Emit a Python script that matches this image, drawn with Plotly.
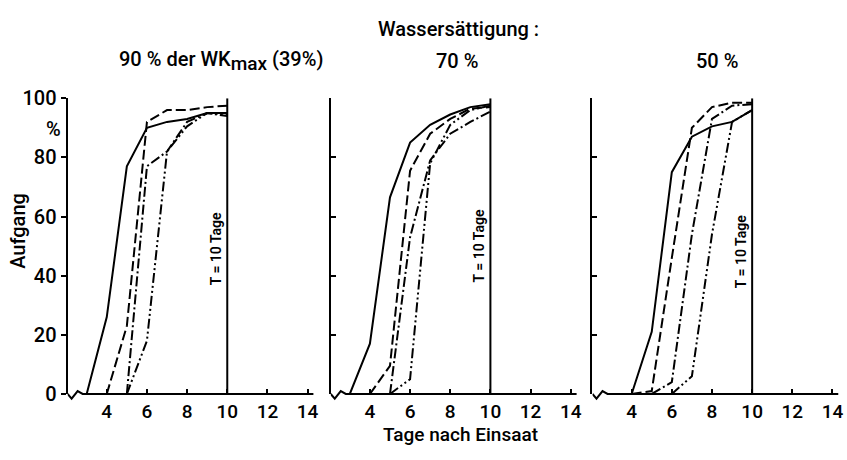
import plotly.graph_objects as go

# ---------------- data (days after sowing, emergence %) ----------------
x_ticks = [4, 6, 8, 10, 12, 14]
y_ticks = [0, 20, 40, 60, 80, 100]
panel_titles = ["90 % der WK<sub><span style='font-size:19px'>max</span></sub> (39%)", "70 %", "50 %"]

# panel 1: 90 %
p1_solid_x = [3, 4, 5, 6, 7, 8, 9, 10]
p1_solid_y = [0, 26, 77, 90, 92, 93, 95, 95]
p1_dash_x = [4, 5, 6, 7, 8, 9, 10]
p1_dash_y = [0, 23, 92, 96, 96, 97, 97.5]
p1_dashdot_x = [5, 6, 7, 8, 9, 10]
p1_dashdot_y = [0, 77, 82, 92, 95, 94]
p1_dashdotdot_x = [5, 6, 7, 8, 9, 10]
p1_dashdotdot_y = [0, 18, 82, 90.5, 95, 94.5]

# panel 2: 70 %
p2_solid_x = [3, 4, 5, 6, 7, 8, 9, 10]
p2_solid_y = [0, 17, 66.5, 85, 91, 94.5, 97, 98]
p2_dash_x = [4, 5, 6, 7, 8, 9, 10]
p2_dash_y = [0, 9.5, 75.5, 88, 93, 96.5, 97]
p2_dashdot_x = [5, 6, 7, 8, 9, 10]
p2_dashdot_y = [0, 53, 79, 88, 92, 95.5]
p2_dashdotdot_x = [5, 6, 7, 8, 9, 10]
p2_dashdotdot_y = [0, 5, 78, 91, 96, 97.5]

# panel 3: 50 %
p3_solid_x = [4, 5, 6, 7, 8, 9, 10]
p3_solid_y = [0, 21, 75, 87, 90.5, 92, 96]
p3_dash_x = [4, 5, 6, 7, 8, 9, 10]
p3_dash_y = [0, 1, 46, 90, 97, 98.5, 98.5]
p3_dashdot_x = [5, 6, 7, 8, 9, 10]
p3_dashdot_y = [0, 4, 54, 93, 97.5, 98]
p3_dashdotdot_x = [6, 7, 8, 9, 10]
p3_dashdotdot_y = [0, 6, 54, 92, 96]

T_day = 10

# ---------------- layout helpers ----------------
W, H = 847, 460
FONT = "Roboto, Liberation Sans, sans-serif"
WT = 500
x_dom_px = [(68, 315.5), (332.7, 580.2), (596, 843.5)]
y_bot_px, y_top_px = 403, 91
y_dom = [1 - y_bot_px / H, 1 - y_top_px / H]
x_range = [2.05, 14.3]

dash_styles = {
    "solid": "solid",
    "dash": "10px,4px",
    "dashdot": "10px,3px,2px,3px",
    "dashdotdot": "10px,3px,2px,3px,2px,3px",
}

panels = [
    [(p1_solid_x, p1_solid_y, "solid"), (p1_dash_x, p1_dash_y, "dash"),
     (p1_dashdot_x, p1_dashdot_y, "dashdot"), (p1_dashdotdot_x, p1_dashdotdot_y, "dashdotdot")],
    [(p2_solid_x, p2_solid_y, "solid"), (p2_dash_x, p2_dash_y, "dash"),
     (p2_dashdot_x, p2_dashdot_y, "dashdot"), (p2_dashdotdot_x, p2_dashdotdot_y, "dashdotdot")],
    [(p3_solid_x, p3_solid_y, "solid"), (p3_dash_x, p3_dash_y, "dash"),
     (p3_dashdot_x, p3_dashdot_y, "dashdot"), (p3_dashdotdot_x, p3_dashdotdot_y, "dashdotdot")],
]
T_label_y = [49, 50, 48]

fig = go.Figure()
shapes = []
annotations = []

for i, series in enumerate(panels):
    sfx = "" if i == 0 else str(i + 1)
    xa, ya = "x" + sfx, "y" + sfx
    for xs, ys, style in series:
        fig.add_trace(go.Scatter(
            x=xs, y=ys, mode="lines", xaxis=xa, yaxis=ya,
            line=dict(color="black", width=2, dash=dash_styles[style]),
            showlegend=False, hoverinfo="skip",
        ))
    x0, x1 = x_dom_px[i]
    fig.layout["xaxis" + sfx] = dict(
        domain=[x0 / W, x1 / W], range=x_range, anchor=ya,
        tickvals=x_ticks, ticks="inside", ticklen=5, tickwidth=2, tickcolor="black",
        showline=False, showgrid=False, zeroline=False, ticklabelstandoff=4,
        tickfont=dict(family=FONT, size=19, color="black", weight=WT),
    )
    fig.layout["yaxis" + sfx] = dict(
        domain=y_dom, range=[0, 100], anchor=xa,
        tickvals=y_ticks, ticks="outside" if i == 0 else "inside",
        ticklen=5, tickwidth=2, tickcolor="black",
        showticklabels=(i == 0),
        showline=True, linewidth=2, linecolor="black",
        showgrid=False, zeroline=False,
        tickfont=dict(family=FONT, size=20, color="black", weight=WT),
    )
    # baseline with axis break
    Y0 = y_dom[0]
    d = 1.0 / H
    shapes.append(dict(
        type="path", xref=xa, yref="paper",
        path=(f"M {x_range[0]},{Y0} L 2.25,{Y0 - 5 * d} L 2.55,{Y0 + 3 * d} "
              f"L 2.8,{Y0} L {x_range[1]},{Y0}"),
        line=dict(color="black", width=2),
    ))
    # T = 10 days line
    shapes.append(dict(
        type="line", xref=xa, yref=ya, x0=T_day, x1=T_day, y0=0, y1=100,
        line=dict(color="black", width=2),
    ))
    annotations.append(dict(
        x=T_day, y=T_label_y[i], xref=xa, yref=ya, text="T = 10 Tage",
        textangle=-90, showarrow=False, xanchor="right", yanchor="middle", xshift=-1,
        font=dict(family=FONT, size=14, color="black", weight=600),
    ))

title_x_px = [222, 460, 721]
for i, t in enumerate(panel_titles):
    annotations.append(dict(
        x=title_x_px[i] / W, y=1 - 52 / H, xref="paper", yref="paper", text=t,
        showarrow=False, xanchor="center", yanchor="middle",
        font=dict(family=FONT, size=20, color="black", weight=WT),
    ))
annotations += [
    dict(x=461 / W, y=1 - 18 / H, xref="paper", yref="paper", text="Wassersättigung :",
         showarrow=False, xanchor="center", yanchor="middle",
         font=dict(family=FONT, size=20, color="black", weight=WT)),
    dict(x=18 / W, y=1 - 231 / H, xref="paper", yref="paper", text="Aufgang",
         textangle=-90, showarrow=False, xanchor="center", yanchor="middle",
         font=dict(family=FONT, size=20, color="black", weight=WT)),
    dict(x=54 / W, y=89.6, xref="paper", yref="y", text="%",
         showarrow=False, xanchor="center", yanchor="middle",
         font=dict(family=FONT, size=20, color="black", weight=WT)),
    dict(x=463 / W, y=0, xref="paper", yref="paper", text="Tage nach Einsaat",
         showarrow=False, xanchor="center", yanchor="bottom", yshift=1, borderpad=0,
         font=dict(family=FONT, size=19, color="black", weight=WT)),
]

fig.update_layout(
    width=W, height=H, margin=dict(l=0, r=0, t=0, b=0),
    paper_bgcolor="white", plot_bgcolor="white",
    shapes=shapes, annotations=annotations,
    font=dict(family=FONT, color="black"),
)
fig.write_html("out.html")
